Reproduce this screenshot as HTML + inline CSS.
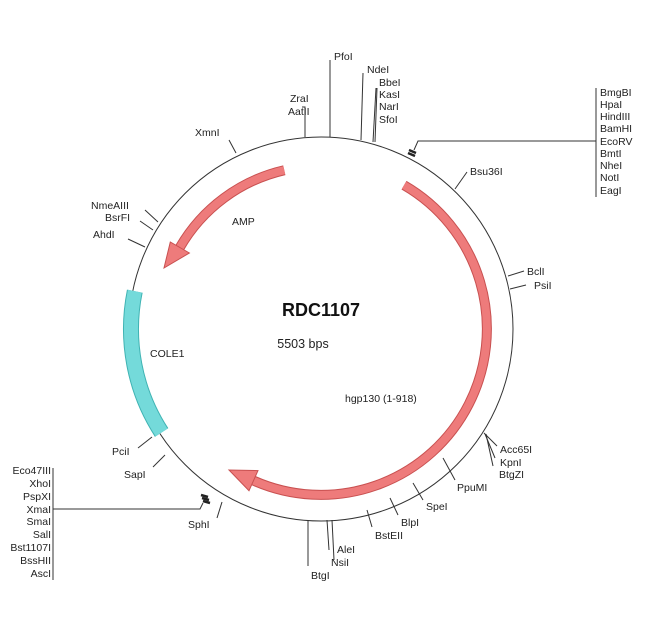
<!DOCTYPE html>
<html><head><meta charset="utf-8"><style>
html,body{margin:0;padding:0;background:#fff;}
svg{display:block;}
text{font-family:"Liberation Sans",sans-serif;font-size:10.5px;fill:#222;}
</style></head><body>
<svg width="650" height="637" viewBox="0 0 650 637" xmlns="http://www.w3.org/2000/svg">
<circle cx="321" cy="329" r="192" fill="none" stroke="#333" stroke-width="1"/>
<!-- COLE1 -->
<path d="M134.8,291.2 A190,190 0 0 0 161.6,432.5" fill="none" stroke="#3fb3b3" stroke-width="16"/>
<path d="M134.8,291.2 A190,190 0 0 0 161.6,432.5" fill="none" stroke="#74dada" stroke-width="14"/>
<!-- hgp130 -->
<path d="M404,185.2 A166,166 0 0 1 253.5,480.6" fill="none" stroke="#c85050" stroke-width="10"/>
<path d="M404,185.2 A166,166 0 0 1 253.5,480.6" fill="none" stroke="#ee7b7b" stroke-width="8"/>
<polygon points="258,470.6 249,490.7 229,470" fill="#ee7b7b" stroke="#c85050" stroke-width="1"/>
<!-- AMP -->
<path d="M284.3,170.2 A163,163 0 0 0 179.8,247.5" fill="none" stroke="#c85050" stroke-width="10"/>
<path d="M284.3,170.2 A163,163 0 0 0 179.8,247.5" fill="none" stroke="#ee7b7b" stroke-width="8"/>
<polygon points="189.4,253 170.3,242 164,268" fill="#ee7b7b" stroke="#c85050" stroke-width="1"/>

<g stroke="#333" stroke-width="1" fill="none">
<!-- top -->
<polyline points="305,137 305,107 302,107"/>
<line x1="330" y1="137" x2="330" y2="60"/>
<line x1="361" y1="140" x2="363" y2="73"/>
<line x1="373" y1="142" x2="376" y2="88"/>
<line x1="375" y1="142" x2="377" y2="88"/>
<polyline points="414,150 418,141 596,141"/>
<line x1="596" y1="88" x2="596" y2="197"/>
<line x1="236" y1="153" x2="229" y2="140"/>
<line x1="158" y1="222" x2="145" y2="210"/>
<line x1="153" y1="230" x2="140" y2="221"/>
<line x1="145" y1="247" x2="128" y2="239"/>
<!-- right -->
<line x1="455" y1="189" x2="467" y2="172"/>
<line x1="508" y1="276" x2="524" y2="271"/>
<line x1="510" y1="289" x2="526" y2="285"/>
<line x1="484" y1="433" x2="497" y2="446"/>
<line x1="485" y1="434" x2="495" y2="458"/>
<line x1="486" y1="434" x2="493" y2="466"/>
<line x1="443" y1="458" x2="455" y2="480"/>
<line x1="413" y1="483" x2="423" y2="500"/>
<line x1="390" y1="498" x2="398" y2="515"/>
<line x1="367" y1="510" x2="372" y2="527"/>
<line x1="327" y1="520" x2="329" y2="550"/>
<line x1="332" y1="520" x2="334" y2="560"/>
<line x1="308" y1="520" x2="308" y2="566"/>
<!-- left bottom -->
<line x1="222" y1="502" x2="217" y2="518"/>
<line x1="165" y1="455" x2="153" y2="467"/>
<line x1="152" y1="437" x2="138" y2="448"/>
<polyline points="203,503 200,509 53,509"/>
<line x1="53" y1="468" x2="53" y2="580"/>
</g>
<!-- site boxes -->
<g stroke="#222" stroke-width="2.5">
<line x1="409" y1="150" x2="416" y2="153"/>
<line x1="408" y1="153" x2="415" y2="156"/>
<line x1="201" y1="495" x2="208" y2="497"/>
<line x1="202" y1="498" x2="209" y2="500"/>
<line x1="203" y1="501" x2="210" y2="503"/>
</g>

<text x="290" y="102">ZraI</text>
<text x="288" y="115">AatII</text>
<text x="334" y="60">PfoI</text>
<text x="367" y="73">NdeI</text>
<text x="379" y="86">BbeI</text>
<text x="379" y="98">KasI</text>
<text x="379" y="110">NarI</text>
<text x="379" y="123">SfoI</text>
<text x="195" y="136">XmnI</text>
<text x="91" y="209">NmeAIII</text>
<text x="105" y="221">BsrFI</text>
<text x="93" y="238">AhdI</text>
<g>
<text x="600" y="96">BmgBI</text>
<text x="600" y="108">HpaI</text>
<text x="600" y="120">HindIII</text>
<text x="600" y="132">BamHI</text>
<text x="600" y="145">EcoRV</text>
<text x="600" y="157">BmtI</text>
<text x="600" y="169">NheI</text>
<text x="600" y="181">NotI</text>
<text x="600" y="194">EagI</text>
</g>
<text x="470" y="175">Bsu36I</text>
<text x="527" y="275">BclI</text>
<text x="534" y="289">PsiI</text>
<text x="500" y="453">Acc65I</text>
<text x="500" y="466">KpnI</text>
<text x="499" y="478">BtgZI</text>
<text x="457" y="491">PpuMI</text>
<text x="426" y="510">SpeI</text>
<text x="401" y="526">BlpI</text>
<text x="375" y="539">BstEII</text>
<text x="337" y="553">AleI</text>
<text x="331" y="566">NsiI</text>
<text x="311" y="579">BtgI</text>
<text x="188" y="528">SphI</text>
<text x="124" y="478">SapI</text>
<text x="112" y="455">PciI</text>
<g text-anchor="end">
<text x="51" y="474">Eco47III</text>
<text x="51" y="487">XhoI</text>
<text x="51" y="500">PspXI</text>
<text x="51" y="513">XmaI</text>
<text x="51" y="525">SmaI</text>
<text x="51" y="538">SalI</text>
<text x="51" y="551">Bst1107I</text>
<text x="51" y="564">BssHII</text>
<text x="51" y="577">AscI</text>
</g>
<text x="232" y="225">AMP</text>
<text x="150" y="357">COLE1</text>
<text x="345" y="402">hgp130 (1-918)</text>
<text x="321" y="316" text-anchor="middle" style="font-size:18px;font-weight:bold;fill:#111">RDC1107</text>
<text x="303" y="348" text-anchor="middle" style="font-size:12.5px">5503 bps</text>
</svg>
</body></html>
